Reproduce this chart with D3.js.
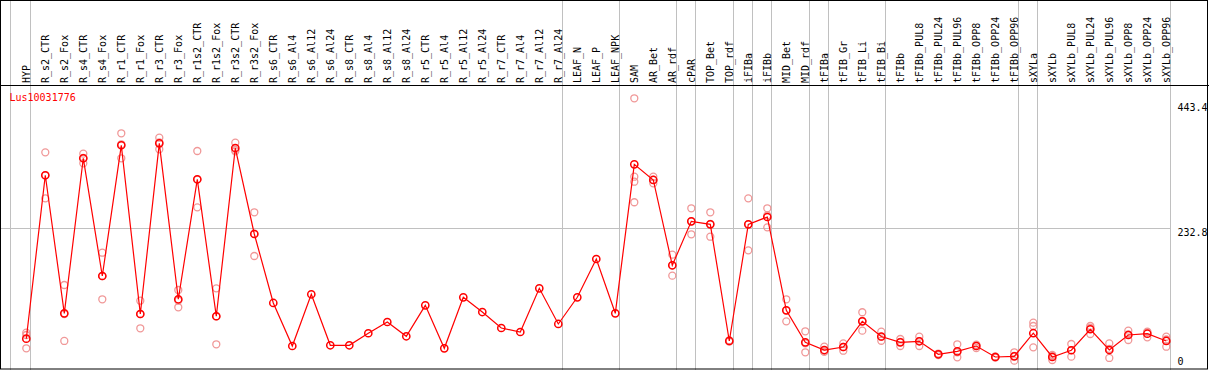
<!DOCTYPE html>
<html><head><meta charset="utf-8">
<script src="https://cdn.jsdelivr.net/npm/d3@7"></script>
<style>body{margin:0;background:#fff}svg{display:block}text{font-family:"DejaVu Sans Mono",monospace;font-size:10px}</style>
</head><body>
<script>
const title = "Lus10031776";
const categories = ["HYP","R_s2_CTR","R_s2_Fox","R_s4_CTR","R_s4_Fox","R_r1_CTR","R_r1_Fox","R_r3_CTR","R_r3_Fox","R_r1s2_CTR","R_r1s2_Fox","R_r3s2_CTR","R_r3s2_Fox","R_s6_CTR","R_s6_Al4","R_s6_Al12","R_s6_Al24","R_s8_CTR","R_s8_Al4","R_s8_Al12","R_s8_Al24","R_r5_CTR","R_r5_Al4","R_r5_Al12","R_r5_Al24","R_r7_CTR","R_r7_Al4","R_r7_Al12","R_r7_Al24","LEAF_N","LEAF_P","LEAF_NPK","SAM","AR_Bet","AR_rdf","cPAR","TOP_Bet","TOP_rdf","iFIBa","iFIBb","MID_Bet","MID_rdf","tFIBa","tFIB_Gr","tFIB_Li","tFIB_Bi","tFIBb","tFIBb_PUL8","tFIBb_PUL24","tFIBb_PUL96","tFIBb_OPP8","tFIBb_OPP24","tFIBb_OPP96","sXYLa","sXYLb","sXYLb_PUL8","sXYLb_PUL24","sXYLb_PUL96","sXYLb_OPP8","sXYLb_OPP24","sXYLb_OPP96"];
const means = [53.1,318.4,94.3,346.0,154.9,367.1,93.2,370.3,117.1,311.9,89.5,362.7,223.1,111.1,41.2,125.2,42.4,42.4,61.9,80.2,57.0,107.3,37.5,120.3,96.4,70.5,64.0,134.9,77.0,120.3,182.5,94.3,336.2,310.8,172.3,243.7,238.8,49.4,238.8,250.7,99.2,47.2,34.7,39.6,81.3,56.7,47.2,48.9,27.8,32.6,41.2,23.4,24.5,62.0,23.4,34.3,68.4,34.7,59.1,61.2,49.4];
const replicates = [
 [62.8,59.1,37.5],[355.7,318.4,281.0],[140.3,93.2,49.4],[353.5,346.5,337.9],[192.7,154.9,117.1],
 [386.6,368.7,346.0],[114.8,93.2,70.0],[379.4,372.0,360.6],[132.2,115.0,104.1],[357.8,311.5,266.4],
 [134.9,89.5,44.0],[371.3,359.5,357.3],[258.3,223.6,187.4],
 [],[],[],[],[],[],[],[],[],[],[],[],[],[],[],[],[],[],[],
 [443.4,316.1,308.0,274.6],[316.1,310.8,305.4],[189.5,172.0,155.4],[264.8,243.7,222.6],[258.3,239.4,218.7],
 [50.5,49.4,48.3],[281.0,238.8,196.6],[264.8,253.4,233.9],[117.1,99.2,81.3],[65.1,45.5,31.0],
 [40.1,32.0,32.0],[45.6,39.6,33.6],[96.0,81.8,66.1],[64.5,56.0,49.8],[52.6,47.8,41.2],
 [56.3,49.2,41.2],[29.0,27.8,26.6],[44.0,31.0,22.9],[43.4,42.2,38.0],[24.2,23.4,22.6],[31.0,25.1,17.4],
 [79.1,73.7,39.1],[26.6,25.0,18.5],[44.5,34.5,23.9],[73.7,70.8,60.7],[45.6,36.7,21.8],[66.1,60.2,51.0],
 [64.5,63.7,55.4],[56.3,51.8,40.1]
];
const axisTicks = [443.4, 232.8, 0];
const gridValues = [232.8];
const separatorsAfter = [-1,0,28,31,34,35,37,38,39,41,42,45,52,53,60];

const W = 1209, H = 370;
const svg = d3.select("body").append("svg").attr("width", W).attr("height", H);
const x = d3.scaleBand().domain(categories).range([16.8, 16.8 + 19*categories.length]);
const cx = c => x(c) + x.bandwidth()/2;
const y = d3.scaleLinear().domain([0, 443.4]).range([371.4, 98.3]);

// separators
svg.append("g").selectAll("line").data(separatorsAfter).join("line")
  .attr("x1", i => i < 0 ? 10.5 : Math.floor(cx(categories[i]) + 4.4) + 0.5)
  .attr("x2", i => i < 0 ? 10.5 : Math.floor(cx(categories[i]) + 4.4) + 0.5)
  .attr("y1", 0).attr("y2", H).attr("stroke", "#c0c0c0").attr("stroke-width", 1);
// horizontal grid
svg.append("g").selectAll("line").data(gridValues).join("line")
  .attr("x1", 1).attr("x2", 1170.5)
  .attr("y1", d => Math.round(y(d)) + 0.5).attr("y2", d => Math.round(y(d)) + 0.5)
  .attr("stroke", "#c0c0c0");
// border & header line
svg.append("rect").attr("x", 0.5).attr("y", 0.5).attr("width", 1207).attr("height", 368.5)
  .attr("fill", "none").attr("stroke", "#000");
svg.append("line").attr("x1", 0).attr("x2", W).attr("y1", 85.5).attr("y2", 85.5).attr("stroke", "#000");

// header labels
svg.append("g").selectAll("text").data(categories).join("text")
  .attr("transform", c => `translate(${Math.round(cx(c)) + 3.5},83) rotate(-90)`)
  .attr("fill", "#000").text(c => c);

// title
svg.append("text").attr("x", 9.5).attr("y", 101).attr("fill", "#ff0000").text(title);

// right axis labels
svg.append("g").selectAll("text").data(axisTicks).join("text")
  .attr("x", 1177.5)
  .attr("y", d => d === 0 ? y(d) - 6 : (d === 443.4 ? y(d) + 12.2 : y(d) + 7.5))
  .attr("fill", "#000").text(d => d);

// replicates
const reps = [];
replicates.forEach((arr, i) => arr.forEach(v => reps.push({c: categories[i], v})));
svg.append("g").selectAll("circle").data(reps).join("circle")
  .attr("cx", d => cx(d.c)).attr("cy", d => y(d.v)).attr("r", 3.5)
  .attr("fill", "none").attr("stroke", "#f09898").attr("stroke-width", 1.3);

// mean line
const line = d3.line().x((d, i) => cx(categories[i])).y(d => y(d));
svg.append("path").datum(means).attr("d", line).attr("fill", "none")
  .attr("stroke", "#ff0000").attr("stroke-width", 1.2);
svg.append("g").selectAll("circle").data(means).join("circle")
  .attr("cx", (d, i) => cx(categories[i])).attr("cy", d => y(d)).attr("r", 3.6)
  .attr("fill", "none").attr("stroke", "#ff0000").attr("stroke-width", 1.5);
</script>
</body></html>
